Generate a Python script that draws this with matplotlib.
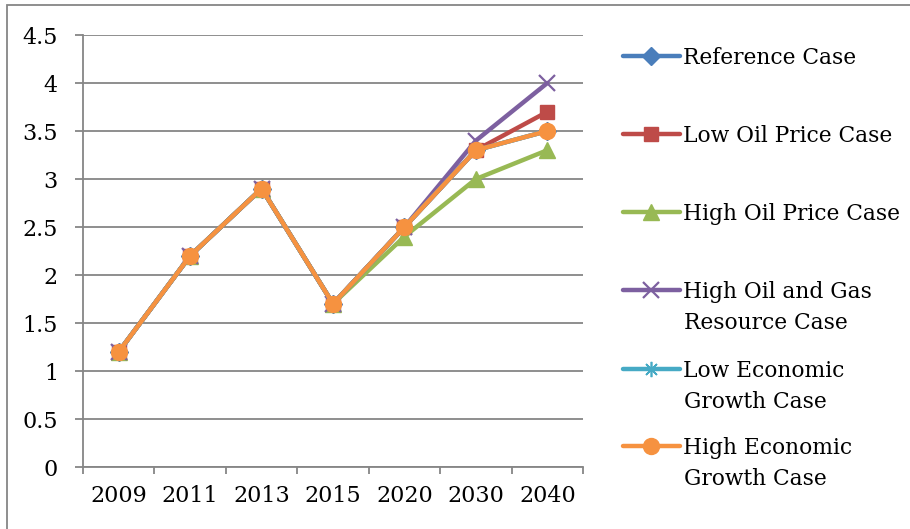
import matplotlib.pyplot as plt
from matplotlib.patches import Rectangle
import numpy as np

years = ['2009', '2011', '2013', '2015', '2020', '2030', '2040']

reference = [1.2, 2.2, 2.9, 1.7, 2.5, 3.3, 3.5]
low_oil = [1.2, 2.2, 2.9, 1.7, 2.5, 3.3, 3.7]
high_oil = [1.2, 2.2, 2.9, 1.7, 2.4, 3.0, 3.3]
high_resource = [1.2, 2.2, 2.9, 1.7, 2.5, 3.4, 4.0]
low_growth = [1.2, 2.2, 2.9, 1.7, 2.5, 3.3, 3.5]
high_growth = [1.2, 2.2, 2.9, 1.7, 2.5, 3.3, 3.5]

# legend labels: first line goes in the legend, second line (if any) below it
labels = ['Reference Case', 'Low Oil Price Case', 'High Oil Price Case',
          'High Oil and Gas', 'Low Economic', 'High Economic']
second_lines = ['', '', '', 'Resource Case', 'Growth Case', 'Growth Case']

plt.rcParams['font.family'] = ['DejaVu Serif']

fig = plt.figure(figsize=(9.1, 5.29), dpi=100)
ax = fig.add_axes([0.0912, 0.1172, 0.5495, 0.8166])

x = np.arange(len(years))
grid = '#868686'

series = [
    (reference, '#4A7EBB', 'D', 9, {}),
    (low_oil, '#BE4B48', 's', 10.5, {}),
    (high_oil, '#98B954', '^', 11.5, {}),
    (high_resource, '#7D60A0', 'x', 12, {'markeredgewidth': 1.6}),
    (low_growth, '#46AAC5', (8, 2, 0), 11, {'markeredgewidth': 1.2}),
    (high_growth, '#F69240', 'o', 11.5, {}),
]

handles = []
for vals, col, mk, ms, kw in series:
    h, = ax.plot(x, vals, color=col, lw=3.2, marker=mk, markersize=ms,
                 markerfacecolor=col, markeredgecolor=col,
                 solid_capstyle='round', **kw)
    handles.append(h)

ax.set_xlim(-0.5, len(years) - 0.5)
ax.set_ylim(0, 4.5)
ax.set_yticks(np.arange(0, 4.51, 0.5))
ax.set_yticklabels(['%g' % v for v in np.arange(0, 4.51, 0.5)])
ax.set_xticks(x)
ax.set_xticklabels(years)
ax.set_xticks(np.arange(-0.5, len(years), 1), minor=True)

ax.yaxis.grid(True, color=grid, lw=1.3)
ax.set_axisbelow(True)
for s in ['top', 'right']:
    ax.spines[s].set_visible(False)
for s in ['left', 'bottom']:
    ax.spines[s].set_color(grid)
    ax.spines[s].set_linewidth(1.3)

ax.tick_params(axis='y', length=6, width=1.3, color=grid, pad=12, labelsize=16)
ax.tick_params(axis='x', which='major', length=0, pad=13, labelsize=16)
ax.tick_params(axis='x', which='minor', length=5, width=1.3, color=grid)

# one legend box per entry, stacked down the right side
ys = [58, 136, 214, 292, 371, 448]
for h, lab, sub, yp in zip(handles, labels, second_lines, ys):
    fig.legend([h], [lab], loc='center left',
               bbox_to_anchor=(623 / 910, 1 - yp / 529),
               frameon=False, fontsize=15.7, handlelength=2.6,
               handletextpad=0.15, borderpad=0, borderaxespad=0)
    if sub:
        fig.text(684 / 910, 1 - (yp + 31) / 529, sub, fontsize=15.7,
                 va='center', ha='left')

fig.patches.append(Rectangle((7 / 910, -0.1), 1.2, 1 - 5 / 529 + 0.1,
                             transform=fig.transFigure, fill=False,
                             edgecolor=grid, lw=1.3))

fig.savefig('out.png', dpi=100)
